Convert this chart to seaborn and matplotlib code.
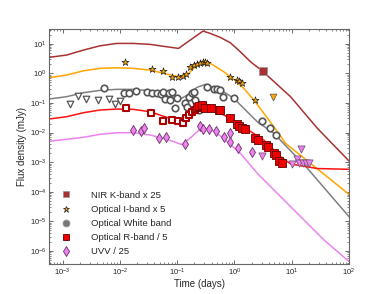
import numpy as np
import pandas as pd
import matplotlib
matplotlib.use("Agg")
import matplotlib.pyplot as plt
from matplotlib.lines import Line2D
import seaborn as sns

# ---------------- data ----------------
# model curves: time (days) and flux (mJy)
k_line_t = [5.75e-4, 1.17e-3, 2.30e-3, 4.50e-3, 8.83e-3, 1.72e-2, 3.38e-2, 6.62e-2, 0.106, 0.169, 0.283, 0.380, 0.569, 0.851, 1.27, 1.91, 3.05, 9.55, 28.1, 100.0]
k_line_f = [3.48, 4.15, 6.12, 8.55, 10.3, 10.3, 9.55, 7.93, 7.0, 13.3, 26.9, 22.4, 16.4, 10.8, 5.37, 2.47, 1.22, 0.163, 0.0139, 0.0011]

i_line_t = [5.75e-4, 1.17e-3, 2.30e-3, 4.50e-3, 8.83e-3, 1.72e-2, 3.38e-2, 6.62e-2, 0.106, 0.149, 0.194, 0.290, 0.380, 0.650, 0.973, 1.46, 2.18, 3.26, 4.88, 7.82, 100.0]
i_line_f = [0.711, 0.877, 1.22, 1.48, 1.55, 1.48, 1.29, 0.948, 0.769, 0.877, 1.48, 2.71, 2.18, 1.14, 0.628, 0.312, 0.126, 0.0447, 0.0158, 0.00434, 8.2e-5]

w_line_t = [5.75e-4, 1.17e-3, 2.30e-3, 4.50e-3, 8.83e-3, 1.72e-2, 3.38e-2, 6.62e-2, 0.106, 0.169, 0.222, 0.310, 0.434, 0.650, 0.973, 1.46, 2.50, 4.88, 18.8, 100.0]
w_line_f = [0.136, 0.163, 0.222, 0.267, 0.289, 0.289, 0.259, 0.200, 0.126, 0.211, 0.337, 0.426, 0.337, 0.239, 0.144, 0.0659, 0.0233, 0.00944, 6.2e-4, 1.44e-5]

r_line_t = [5.75e-4, 1.17e-3, 2.30e-3, 4.50e-3, 8.83e-3, 1.72e-2, 3.38e-2, 6.62e-2, 0.113, 0.169, 0.272, 0.434, 0.851, 1.67, 3.26, 6.40, 9.57, 28.1, 100.0]
r_line_f = [0.0287, 0.0343, 0.0468, 0.0578, 0.0624, 0.0610, 0.0506, 0.0327, 0.0233, 0.0392, 0.0885, 0.0578, 0.0303, 0.0129, 0.00561, 0.00153, 8.7e-4, 6.1e-4, 5.75e-4]

u_line_t = [5.75e-4, 1.17e-3, 2.30e-3, 4.50e-3, 8.83e-3, 1.72e-2, 3.38e-2, 6.62e-2, 0.121, 0.169, 0.272, 0.434, 0.650, 1.27, 2.50, 9.57, 36.6, 100.0]
u_line_f = [5.07e-3, 5.93e-3, 6.92e-3, 8.73e-3, 9.89e-3, 9.89e-3, 8.28e-3, 5.93e-3, 3.95e-3, 6.55e-3, 1.48e-2, 1.13e-2, 6.31e-3, 2.0e-3, 4.22e-4, 3.14e-5, 2.36e-6, 4.4e-7]

# observations
k_obs_t = [3.13]
k_obs_f = [1.23]

i_obs_t = [0.0125, 0.0362, 0.0578, 0.081, 0.103, 0.126, 0.144, 0.170, 0.194, 0.222, 0.254, 0.283, 0.310, 0.333, 0.85, 1.11, 1.19, 1.36, 2.33]
i_obs_f = [2.41, 1.40, 1.20, 0.77, 0.77, 0.79, 0.95, 1.63, 1.91, 2.06, 2.28, 2.51, 2.51, 2.18, 0.77, 0.60, 0.56, 0.48, 0.126]
i_lim_t = [4.63]
i_lim_f = [0.163]

w_obs_t = [0.00528, 0.0120, 0.0145, 0.0192, 0.0303, 0.0362, 0.0443, 0.0520, 0.0578, 0.0619, 0.0707, 0.0811, 0.0757, 0.0927, 0.099, 0.139, 0.149, 0.158, 0.182, 0.194, 0.207, 0.222, 0.237, 0.254, 0.333, 0.434, 0.498, 0.569, 0.634, 0.97, 3.05, 4.15, 5.29]
w_obs_f = [0.312, 0.222, 0.222, 0.247, 0.229, 0.211, 0.211, 0.196, 0.239, 0.133, 0.211, 0.239, 0.126, 0.066, 0.144, 0.097, 0.075, 0.163, 0.211, 0.239, 0.126, 0.075, 0.058, 0.075, 0.353, 0.289, 0.289, 0.274, 0.155, 0.150, 0.0245, 0.0146, 0.0083]
w_lim_t = [0.00137, 0.00189, 0.00259, 0.00415, 0.0064, 0.00814, 0.00996]
w_lim_f = [0.090, 0.169, 0.139, 0.131, 0.136, 0.092, 0.116]

r_open_t = [0.0126, 0.0351, 0.0578, 0.0804, 0.102, 0.125, 0.144, 0.163, 0.184, 0.203]
r_open_f = [0.0702, 0.0447, 0.0251, 0.0265, 0.0255, 0.0215, 0.031, 0.0407, 0.0514, 0.060]
r_obs_t = [0.220, 0.244, 0.275, 0.310, 0.388, 0.531, 0.557, 0.834, 1.11, 1.22, 1.36, 1.56, 2.33, 2.56, 3.49, 3.79, 4.92, 5.23, 5.90, 6.84]
r_obs_f = [0.073, 0.077, 0.0886, 0.066, 0.0686, 0.0565, 0.060, 0.0303, 0.0195, 0.0164, 0.0139, 0.0129, 0.0068, 0.0056, 0.0038, 0.0033, 0.0021, 0.00175, 0.0011, 0.00096]

u_obs_t = [0.0168, 0.0238, 0.0265, 0.048, 0.065, 0.135, 0.247, 0.286, 0.360, 0.48, 0.650, 0.834, 0.85, 1.14, 2.04]
u_obs_f = [0.0122, 0.0117, 0.0146, 0.0068, 0.0071, 0.0040, 0.0173, 0.0135, 0.0129, 0.0116, 0.0072, 0.0099, 0.0049, 0.0031, 0.0022]
u_lim_t = [2.99, 10.3, 12.5, 14.3, 13.2, 15.5, 17.5, 20.0]
u_lim_f = [0.00158, 0.00087, 0.00125, 0.0027, 0.00097, 0.00094, 0.00097, 0.00092]

legend_labels = ["NIR K-band x 25", "Optical I-band x 5", "Optical White band", "Optical R-band / 5", "UVV / 25"]

# ---------------- style ----------------
sns.set_theme(style="ticks")
plt.rcParams["font.family"] = ["Liberation Sans", "DejaVu Sans"]
plt.rcParams["mathtext.fontset"] = "custom"
plt.rcParams["mathtext.rm"] = "Liberation Sans"
plt.rcParams["mathtext.it"] = "Liberation Sans:italic"

c_k = "#a83232"
c_i = "#ffa500"
c_w = "#808080"
c_r = "#ff1010"
c_u = "#ee82ee"

fig = plt.figure(figsize=(3.9, 2.94), dpi=100)
ax = fig.add_axes([49/390, 30/294, 300/390, 235/294])

lw = 1.1
for t, f, c in [(k_line_t, k_line_f, c_k), (i_line_t, i_line_f, c_i), (w_line_t, w_line_f, c_w),
                (r_line_t, r_line_f, c_r), (u_line_t, u_line_f, c_u)]:
    sns.lineplot(x=t, y=f, ax=ax, color=c, lw=lw, sort=False, estimator=None, zorder=2)

def sc(t, f, **kw):
    sns.scatterplot(x=t, y=f, ax=ax, zorder=3, legend=False, **kw)

# White band
sc(w_lim_t, w_lim_f, marker="v", s=22, color="white", edgecolor="#555555", linewidth=0.9)
sc(w_obs_t, w_obs_f, marker="o", s=22, color="white", edgecolor="#555555", linewidth=1.2)
# I band
sc(i_obs_t, i_obs_f, marker="*", s=28, color=c_i, edgecolor="#222222", linewidth=0.5)
sc(i_lim_t, i_lim_f, marker="v", s=24, color=c_i, edgecolor="#555555", linewidth=0.5)
# R band
sc(r_open_t, r_open_f, marker="s", s=20, color="white", edgecolor="#aa0000", linewidth=1.5)
sc(r_obs_t, r_obs_f, marker="s", s=30, color="#ee0000", edgecolor="#660000", linewidth=0.6)
# UVV
sc(u_obs_t, u_obs_f, marker="d", s=26, color=c_u, edgecolor="#663366", linewidth=0.6)
sc(u_lim_t, u_lim_f, marker="v", s=26, color=c_u, edgecolor="#775577", linewidth=0.6)
# K band
sc(k_obs_t, k_obs_f, marker="s", s=30, color=c_k, edgecolor="#999999", linewidth=0.6)

ax.set_xscale("log")
ax.set_yscale("log")
ax.set_xlim(5.8e-4, 100)
ax.set_ylim(10**-6.44, 10**1.5)
ax.set_xticks([1e-3, 1e-2, 1e-1, 1e0, 1e1, 1e2])
ax.set_xticklabels([r"$10^{-3}$", r"$10^{-2}$", r"$10^{-1}$", r"$10^{0}$", r"$10^{1}$", r"$10^{2}$"])
ax.set_yticks([10.0**e for e in range(-6, 2)])
ax.set_yticklabels([r"$10^{%d}$" % e for e in range(-6, 2)])
ax.tick_params(which="both", direction="in", top=True, right=True, colors="#555555", labelcolor="#222222")
ax.tick_params(which="major", length=3, width=0.6, labelsize=5.5, pad=2)
ax.tick_params(which="minor", length=1.6, width=0.5)
for s in ax.spines.values():
    s.set_color("#666666")
    s.set_linewidth(0.8)

ax.set_xlabel("Time (days)", fontsize=7, labelpad=1)
ax.set_ylabel("Flux density (mJy)", fontsize=7, labelpad=2)

handles = [
    Line2D([], [], ls="", marker="s", ms=5, mfc=c_k, mec="#999999", mew=0.6),
    Line2D([], [], ls="", marker="*", ms=5, mfc=c_i, mec="#222222", mew=0.5),
    Line2D([], [], ls="", marker="o", ms=5, mfc="#777777", mec="#999999", mew=0.6),
    Line2D([], [], ls="", marker="s", ms=5, mfc="#ee0000", mec="#660000", mew=0.6),
    Line2D([], [], ls="", marker="d", ms=5, mfc=c_u, mec="#663366", mew=0.6),
]
ax.legend(handles, legend_labels, loc="lower left", bbox_to_anchor=(0.015, 0.0), frameon=False,
          fontsize=6.8, handletextpad=2.2, labelspacing=0.55, borderaxespad=0.4, handlelength=1.0)

fig.savefig("out.png", dpi=100)
